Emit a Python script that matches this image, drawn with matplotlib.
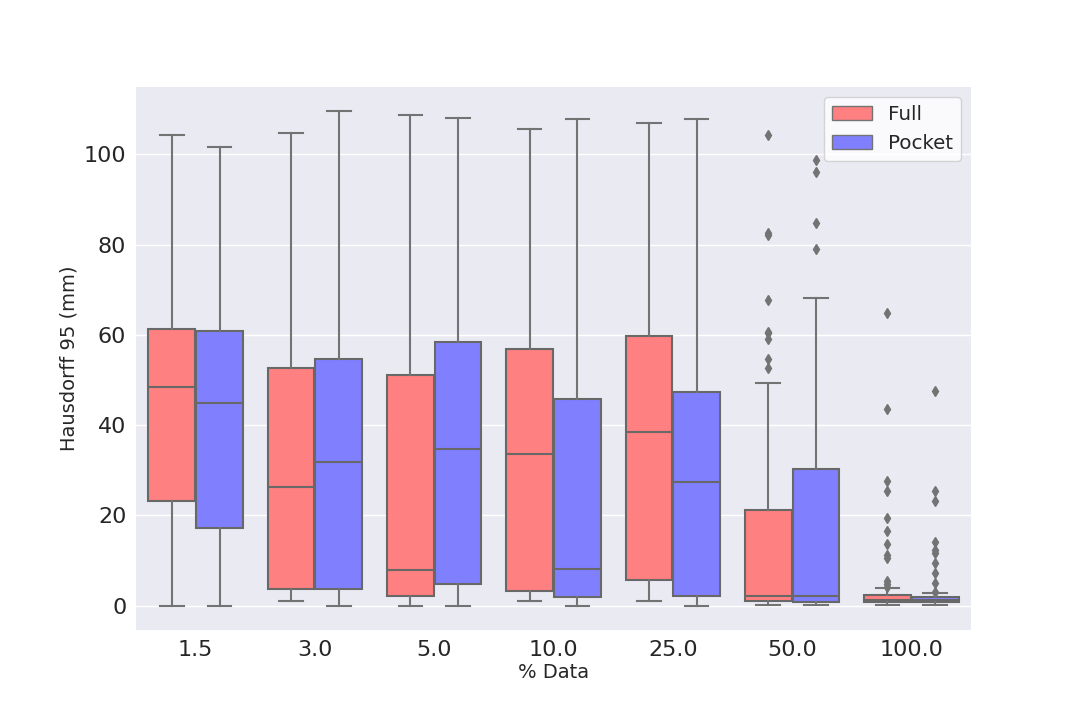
import matplotlib
matplotlib.use("Agg")
import matplotlib.pyplot as plt
from matplotlib.patches import Patch

categories = ["1.5", "3.0", "5.0", "10.0", "25.0", "50.0", "100.0"]
hues = ["Full", "Pocket"]

full_whislo = [0.0, 1.0, 0.0, 1.0, 1.0, 0.1, 0.2]
full_q1 = [23.1, 3.6, 2.2, 3.3, 5.6, 1.1, 0.9]
full_med = [48.4, 26.2, 7.8, 33.6, 38.4, 2.2, 1.3]
full_q3 = [61.3, 52.7, 51.1, 56.9, 59.8, 21.1, 2.3]
full_whishi = [104.4, 104.7, 108.8, 105.7, 107.0, 49.3, 3.9]
full_fliers = [[], [], [], [], [],
               [104.4, 82.6, 82.1, 67.8, 60.7, 60.4, 59.0, 54.6, 52.6],
               [64.8, 43.5, 27.6, 25.3, 19.4, 16.6, 13.7, 11.3, 10.5, 5.5, 4.8, 4.2]]

pocket_whislo = [0.0, 0.0, 0.0, 0.0, 0.0, 0.1, 0.2]
pocket_q1 = [17.1, 3.6, 4.7, 2.0, 2.2, 0.9, 0.8]
pocket_med = [44.9, 31.8, 34.7, 8.2, 27.3, 2.2, 1.2]
pocket_q3 = [60.9, 54.7, 58.4, 45.8, 47.3, 30.2, 1.9]
pocket_whishi = [101.7, 109.7, 108.1, 107.9, 107.9, 68.2, 2.8]
pocket_fliers = [[], [], [], [], [],
                 [98.8, 96.1, 84.8, 79.0],
                 [47.6, 25.3, 23.1, 14.1, 12.4, 11.6, 9.5, 7.2, 5.1, 3.1]]

colors = {"Full": "#FF8080", "Pocket": "#8080FF"}
gray = "#737373"
box_edge = "#686868"

plt.rcParams.update({
    "axes.facecolor": "#EAEAF2",
    "axes.edgecolor": "white",
    "axes.grid": True,
    "axes.axisbelow": True,
    "grid.color": "white",
    "grid.linewidth": 1.0,
    "xtick.bottom": False,
    "ytick.left": False,
    "xtick.color": "#262626",
    "ytick.color": "#262626",
    "axes.labelcolor": "#262626",
    "text.color": "#262626",
    "font.family": ["DejaVu Sans"],
})

fig = plt.figure(figsize=(10.8, 7.2), dpi=100)
ax = fig.add_axes([0.126, 0.125, 0.773, 0.754])
for s in ax.spines.values():
    s.set_visible(False)

def make_stats(lo, q1, med, q3, hi, fl):
    return [dict(whislo=a, q1=b, med=c, q3=d, whishi=e, fliers=f, label="")
            for a, b, c, d, e, f in zip(lo, q1, med, q3, hi, fl)]

series = [
    ("Full", make_stats(full_whislo, full_q1, full_med, full_q3, full_whishi, full_fliers), -0.2),
    ("Pocket", make_stats(pocket_whislo, pocket_q1, pocket_med, pocket_q3, pocket_whishi, pocket_fliers), 0.2),
]

lw = 1.5
for name, stats, off in series:
    pos = [i + off for i in range(len(categories))]
    ax.bxp(stats, positions=pos, widths=0.392, patch_artist=True, manage_ticks=False,
           boxprops=dict(facecolor=colors[name], edgecolor=box_edge, linewidth=lw),
           whiskerprops=dict(color=gray, linewidth=lw),
           capprops=dict(color=gray, linewidth=lw),
           medianprops=dict(color=box_edge, linewidth=lw),
           flierprops=dict(marker="d", markersize=5, markerfacecolor=gray,
                           markeredgecolor=gray, linestyle="none"))

ax.set_xticks(range(len(categories)))
ax.set_xticklabels(categories)
ax.set_xlim(-0.5, len(categories) - 0.5)
ax.set_ylim(-5.4, 114.9)
ax.set_yticks([0, 20, 40, 60, 80, 100])
ax.xaxis.grid(False)
ax.tick_params(axis="x", labelsize=16, pad=4)
ax.tick_params(axis="y", labelsize=16, pad=3.5)
ax.set_xlabel("% Data", fontsize=14, labelpad=2)
ax.set_ylabel("Hausdorff 95 (mm)", fontsize=14, labelpad=3.5)

handles = [Patch(facecolor=colors[h], edgecolor=gray, linewidth=1.0, label=h) for h in hues]
ax.legend(handles=handles, loc="upper right", fontsize=14.3, facecolor="white",
          edgecolor="#CCCCCC", framealpha=0.8)

fig.savefig("out.png", dpi=100)
